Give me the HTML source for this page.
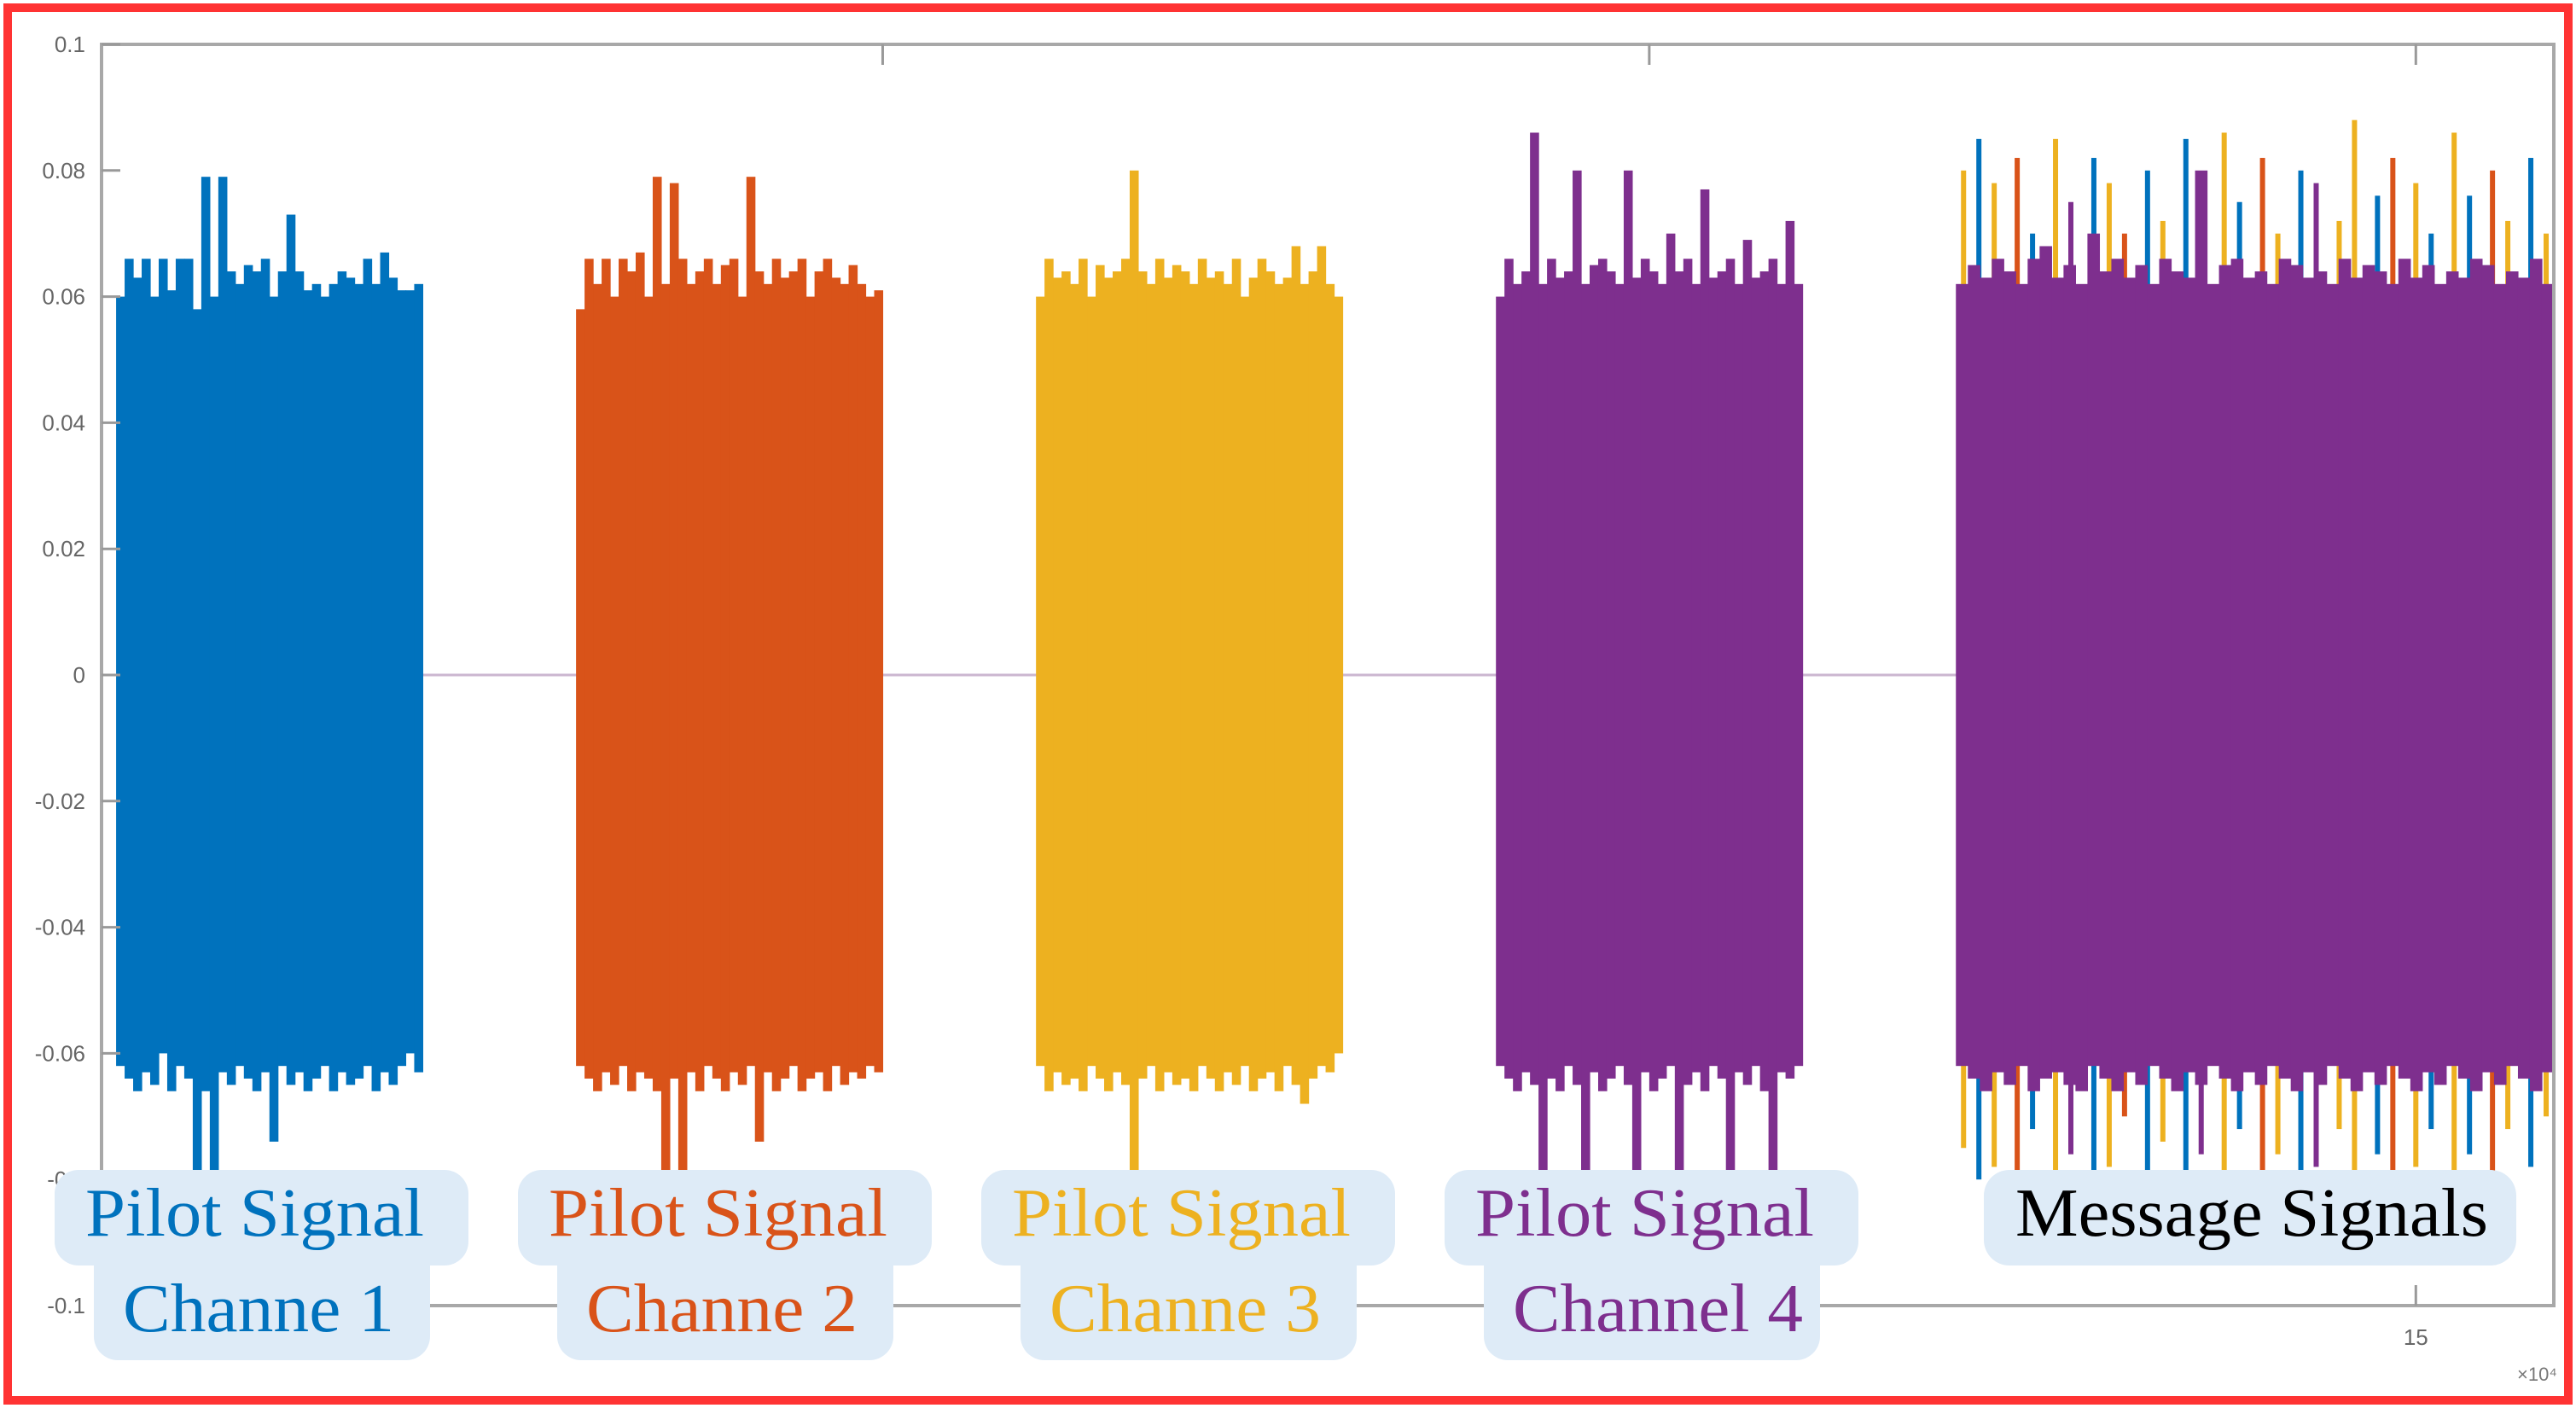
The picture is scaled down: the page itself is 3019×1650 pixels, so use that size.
<!DOCTYPE html>
<html><head><meta charset="utf-8"><style>
html,body{margin:0;padding:0;background:#fff;}
svg{display:block;}
</style></head><body>
<svg id="chart" width="3019" height="1650" viewBox="0 0 3019 1650" xmlns="http://www.w3.org/2000/svg">
<rect x="0" y="0" width="3019" height="1650" fill="#fff"/>
<g id="plot"></g>
<g id="axes"></g>
<g id="labels"></g>
<rect x="9" y="9" width="3001" height="1632" fill="none" stroke="#f33" stroke-width="10"/>
</svg>
<script>
const yTicks=[0.1,0.08,0.06,0.04,0.02,0,-0.02,-0.04,-0.06,-0.08,-0.1];
const yTickLabels=["0.1","0.08","0.06","0.04","0.02","0","-0.02","-0.04","-0.06","-0.0","-0.1"];
const xTicks=[5,10,15];
const channelNames=["Pilot Signal Channe 1","Pilot Signal Channe 2","Pilot Signal Channe 3","Pilot Signal Channel 4"];
const channelStart=[0,3,6,9];
const channelEnd=[2,5,8,11];
const colors=["#0072bd","#d95319","#edb120","#7e2f8e"];
const ch1Top=[0.060,0.066,0.063,0.066,0.060,0.066,0.061,0.066,0.066,0.058,0.079,0.060,0.079,0.064,0.062,0.065,0.064,0.066,0.060,0.064,0.073,0.064,0.061,0.062,0.060,0.062,0.064,0.063,0.062,0.066,0.062,0.067,0.063,0.061,0.061,0.062];
const ch1Bot=[0.062,0.064,0.066,0.063,0.065,0.060,0.066,0.062,0.064,0.080,0.066,0.080,0.063,0.065,0.062,0.064,0.066,0.063,0.074,0.062,0.065,0.063,0.066,0.064,0.062,0.066,0.063,0.065,0.064,0.062,0.066,0.063,0.065,0.062,0.060,0.063];
const ch2Top=[0.058,0.066,0.062,0.066,0.060,0.066,0.064,0.067,0.060,0.079,0.062,0.078,0.066,0.062,0.064,0.066,0.062,0.065,0.066,0.060,0.079,0.064,0.062,0.066,0.063,0.064,0.066,0.060,0.064,0.066,0.063,0.062,0.065,0.062,0.060,0.061];
const ch2Bot=[0.062,0.064,0.066,0.063,0.065,0.062,0.066,0.063,0.064,0.066,0.080,0.064,0.080,0.063,0.066,0.062,0.064,0.066,0.063,0.065,0.062,0.074,0.063,0.066,0.064,0.062,0.066,0.064,0.063,0.066,0.062,0.065,0.063,0.064,0.062,0.063];
const ch3Top=[0.060,0.066,0.063,0.064,0.062,0.066,0.060,0.065,0.063,0.064,0.066,0.080,0.064,0.062,0.066,0.063,0.065,0.064,0.062,0.066,0.063,0.064,0.062,0.066,0.060,0.063,0.066,0.064,0.062,0.063,0.068,0.062,0.064,0.068,0.062,0.060];
const ch3Bot=[0.062,0.066,0.063,0.065,0.064,0.066,0.062,0.064,0.066,0.063,0.065,0.080,0.064,0.062,0.066,0.063,0.065,0.064,0.066,0.062,0.064,0.066,0.063,0.065,0.062,0.066,0.064,0.063,0.066,0.062,0.065,0.068,0.064,0.062,0.063,0.060];
const ch4Top=[0.060,0.066,0.062,0.064,0.086,0.062,0.066,0.063,0.064,0.080,0.062,0.065,0.066,0.064,0.062,0.080,0.063,0.066,0.064,0.062,0.070,0.064,0.066,0.062,0.077,0.063,0.064,0.066,0.062,0.069,0.063,0.064,0.066,0.062,0.072,0.062];
const ch4Bot=[0.062,0.064,0.066,0.063,0.065,0.080,0.064,0.066,0.062,0.065,0.080,0.063,0.066,0.064,0.062,0.065,0.080,0.063,0.066,0.064,0.062,0.080,0.065,0.063,0.066,0.062,0.064,0.080,0.063,0.065,0.062,0.066,0.080,0.063,0.064,0.062];
const msgStart=12, msgEnd=15.9;
const msgTop=[0.062,0.065,0.063,0.066,0.064,0.062,0.066,0.068,0.063,0.065,0.062,0.070,0.064,0.066,0.063,0.065,0.062,0.066,0.064,0.063,0.080,0.062,0.065,0.066,0.063,0.064,0.062,0.066,0.065,0.063,0.064,0.062,0.066,0.063,0.065,0.064,0.062,0.066,0.063,0.065,0.062,0.064,0.063,0.066,0.065,0.062,0.064,0.063,0.066,0.062];
const msgBot=[0.062,0.064,0.066,0.063,0.065,0.062,0.066,0.064,0.063,0.065,0.066,0.062,0.064,0.066,0.063,0.065,0.062,0.064,0.066,0.063,0.065,0.062,0.064,0.066,0.063,0.065,0.062,0.064,0.066,0.063,0.065,0.062,0.064,0.066,0.063,0.065,0.062,0.064,0.066,0.063,0.065,0.062,0.064,0.066,0.063,0.065,0.062,0.064,0.066,0.063];
const spikeX=[12.05,12.15,12.25,12.4,12.5,12.65,12.75,12.9,13.0,13.1,13.25,13.35,13.5,13.6,13.75,13.85,14.0,14.1,14.25,14.35,14.5,14.6,14.75,14.85,15.0,15.1,15.25,15.35,15.5,15.6,15.75,15.85];
const spikeTop=[0.080,0.085,0.078,0.082,0.070,0.085,0.075,0.082,0.078,0.070,0.080,0.072,0.085,0.078,0.086,0.075,0.082,0.070,0.080,0.078,0.072,0.088,0.076,0.082,0.078,0.070,0.086,0.076,0.080,0.072,0.082,0.070];
const spikeBot=[0.075,0.080,0.078,0.082,0.072,0.080,0.076,0.082,0.078,0.070,0.082,0.074,0.080,0.076,0.082,0.072,0.080,0.076,0.082,0.078,0.072,0.080,0.076,0.082,0.078,0.072,0.080,0.076,0.080,0.072,0.078,0.070];
const spikeColor=[2,0,2,1,0,2,3,0,2,1,0,2,0,3,2,0,1,2,0,3,2,2,0,1,2,0,2,0,1,2,0,2];

const NS="http://www.w3.org/2000/svg";
const X0=119,X1=2993,Y0=52,Y1=1530;
const xmin=-0.095,xmax=15.9,ymin=-0.1,ymax=0.1;
function sx(v){return X0+(v-xmin)/(xmax-xmin)*(X1-X0);}
function sy(v){return Y1-(v-ymin)/(ymax-ymin)*(Y1-Y0);}
function mk(tag,attrs,parent){const e=document.createElementNS(NS,tag);for(const k in attrs)e.setAttribute(k,attrs[k]);parent.appendChild(e);return e;}
const plot=document.getElementById('plot'),axes=document.getElementById('axes'),labels=document.getElementById('labels');

const zl=mk('line',{x1:X0,x2:X1,y1:sy(0),y2:sy(0),stroke:'#cbb6d0','stroke-width':3},plot);



const tops=[ch1Top,ch2Top,ch3Top,ch4Top],bots=[ch1Bot,ch2Bot,ch3Bot,ch4Bot];
for(let c=0;c<4;c++){
  const g=mk('g',{},plot);
  
  
  const n=tops[c].length,a=sx(channelStart[c]),b=sx(channelEnd[c]),w=(b-a)/n;
  for(let i=0;i<n;i++){
    const r=mk('rect',{x:a+i*w,y:sy(tops[c][i]),width:w+0.6,height:sy(-bots[c][i])-sy(tops[c][i]),fill:colors[c]},g);
    
    
  }
}
const mg=mk('g',{},plot);


for(let i=0;i<spikeX.length;i++){
  const s=mk('rect',{x:sx(spikeX[i])-3,y:sy(spikeTop[i]),width:6,height:sy(-spikeBot[i])-sy(spikeTop[i]),fill:colors[spikeColor[i]]},mg);
  
  
}
{
  const n=msgTop.length,a=sx(msgStart),b=sx(msgEnd),w=(b-a)/n;
  for(let i=0;i<n;i++){
    const r=mk('rect',{x:a+i*w,y:sy(msgTop[i]),width:w+0.6,height:sy(-msgBot[i])-sy(msgTop[i]),fill:colors[3]},mg);
    
    
  }
}
const box=mk('rect',{x:X0,y:Y0,width:X1-X0,height:Y1-Y0,fill:'none',stroke:'#a8a8a8','stroke-width':4},axes);


for(let i=0;i<yTicks.length;i++){
  const y=sy(yTicks[i]);
  const t=mk('line',{x1:X0,x2:X0+22,y1:y,y2:y,stroke:'#999','stroke-width':3},axes);
  
  
  const l=mk('text',{x:100,y:y+9,'text-anchor':'end','font-family':'Liberation Sans, sans-serif','font-size':26,fill:'#666'},axes);
  l.textContent=yTickLabels[i];
  
  
}
for(let i=0;i<xTicks.length;i++){
  const x=sx(xTicks[i]);
  const t=mk('line',{x1:x,x2:x,y1:Y0,y2:Y0+24,stroke:'#999','stroke-width':3},axes);
  
  
  const b=mk('line',{x1:x,x2:x,y1:Y1,y2:Y1-24,stroke:'#999','stroke-width':3},axes);
  
  
}
const xl=mk('text',{x:sx(15),y:1576,'text-anchor':'middle','font-family':'Liberation Sans, sans-serif','font-size':26,fill:'#666'},axes);
xl.textContent='15';


const xe=mk('text',{x:2950,y:1618,'font-family':'Liberation Sans, sans-serif','font-size':22,fill:'#777'},axes);
xe.textContent='\u00d710\u2074';



const offsets=[0,543,1086,1629];
for(let c=0;c<4;c++){
  const o=offsets[c];
  const g=mk('g',{},labels);
  
  
  mk('rect',{x:64+o,y:1371,width:485,height:112,rx:28,fill:'#deebf7'},g);
  mk('rect',{x:110+o,y:1450,width:394,height:144,rx:28,fill:'#deebf7'},g);
  const parts=channelNames[c].split(' ');
  const t1=mk('text',{x:100+o,y:1448,'font-family':'Liberation Serif, serif','font-size':80,fill:colors[c],textLength:397,lengthAdjust:'spacingAndGlyphs'},g);
  t1.textContent=parts[0]+' '+parts[1];
  
  
  const t2=mk('text',{x:144+o,y:1560,'font-family':'Liberation Serif, serif','font-size':80,fill:colors[c],textLength:(c==3?340:318),lengthAdjust:'spacingAndGlyphs'},g);
  t2.textContent=parts[2]+' '+parts[3];
  
  
}
const mgl=mk('g',{},labels);


mk('rect',{x:2325,y:1371,width:624,height:112,rx:30,fill:'#deebf7'},mgl);
const mt=mk('text',{x:2362,y:1448,'font-family':'Liberation Serif, serif','font-size':80,fill:'#000',textLength:554,lengthAdjust:'spacingAndGlyphs'},mgl);
mt.textContent='Message Signals';


</script>
</body></html>
